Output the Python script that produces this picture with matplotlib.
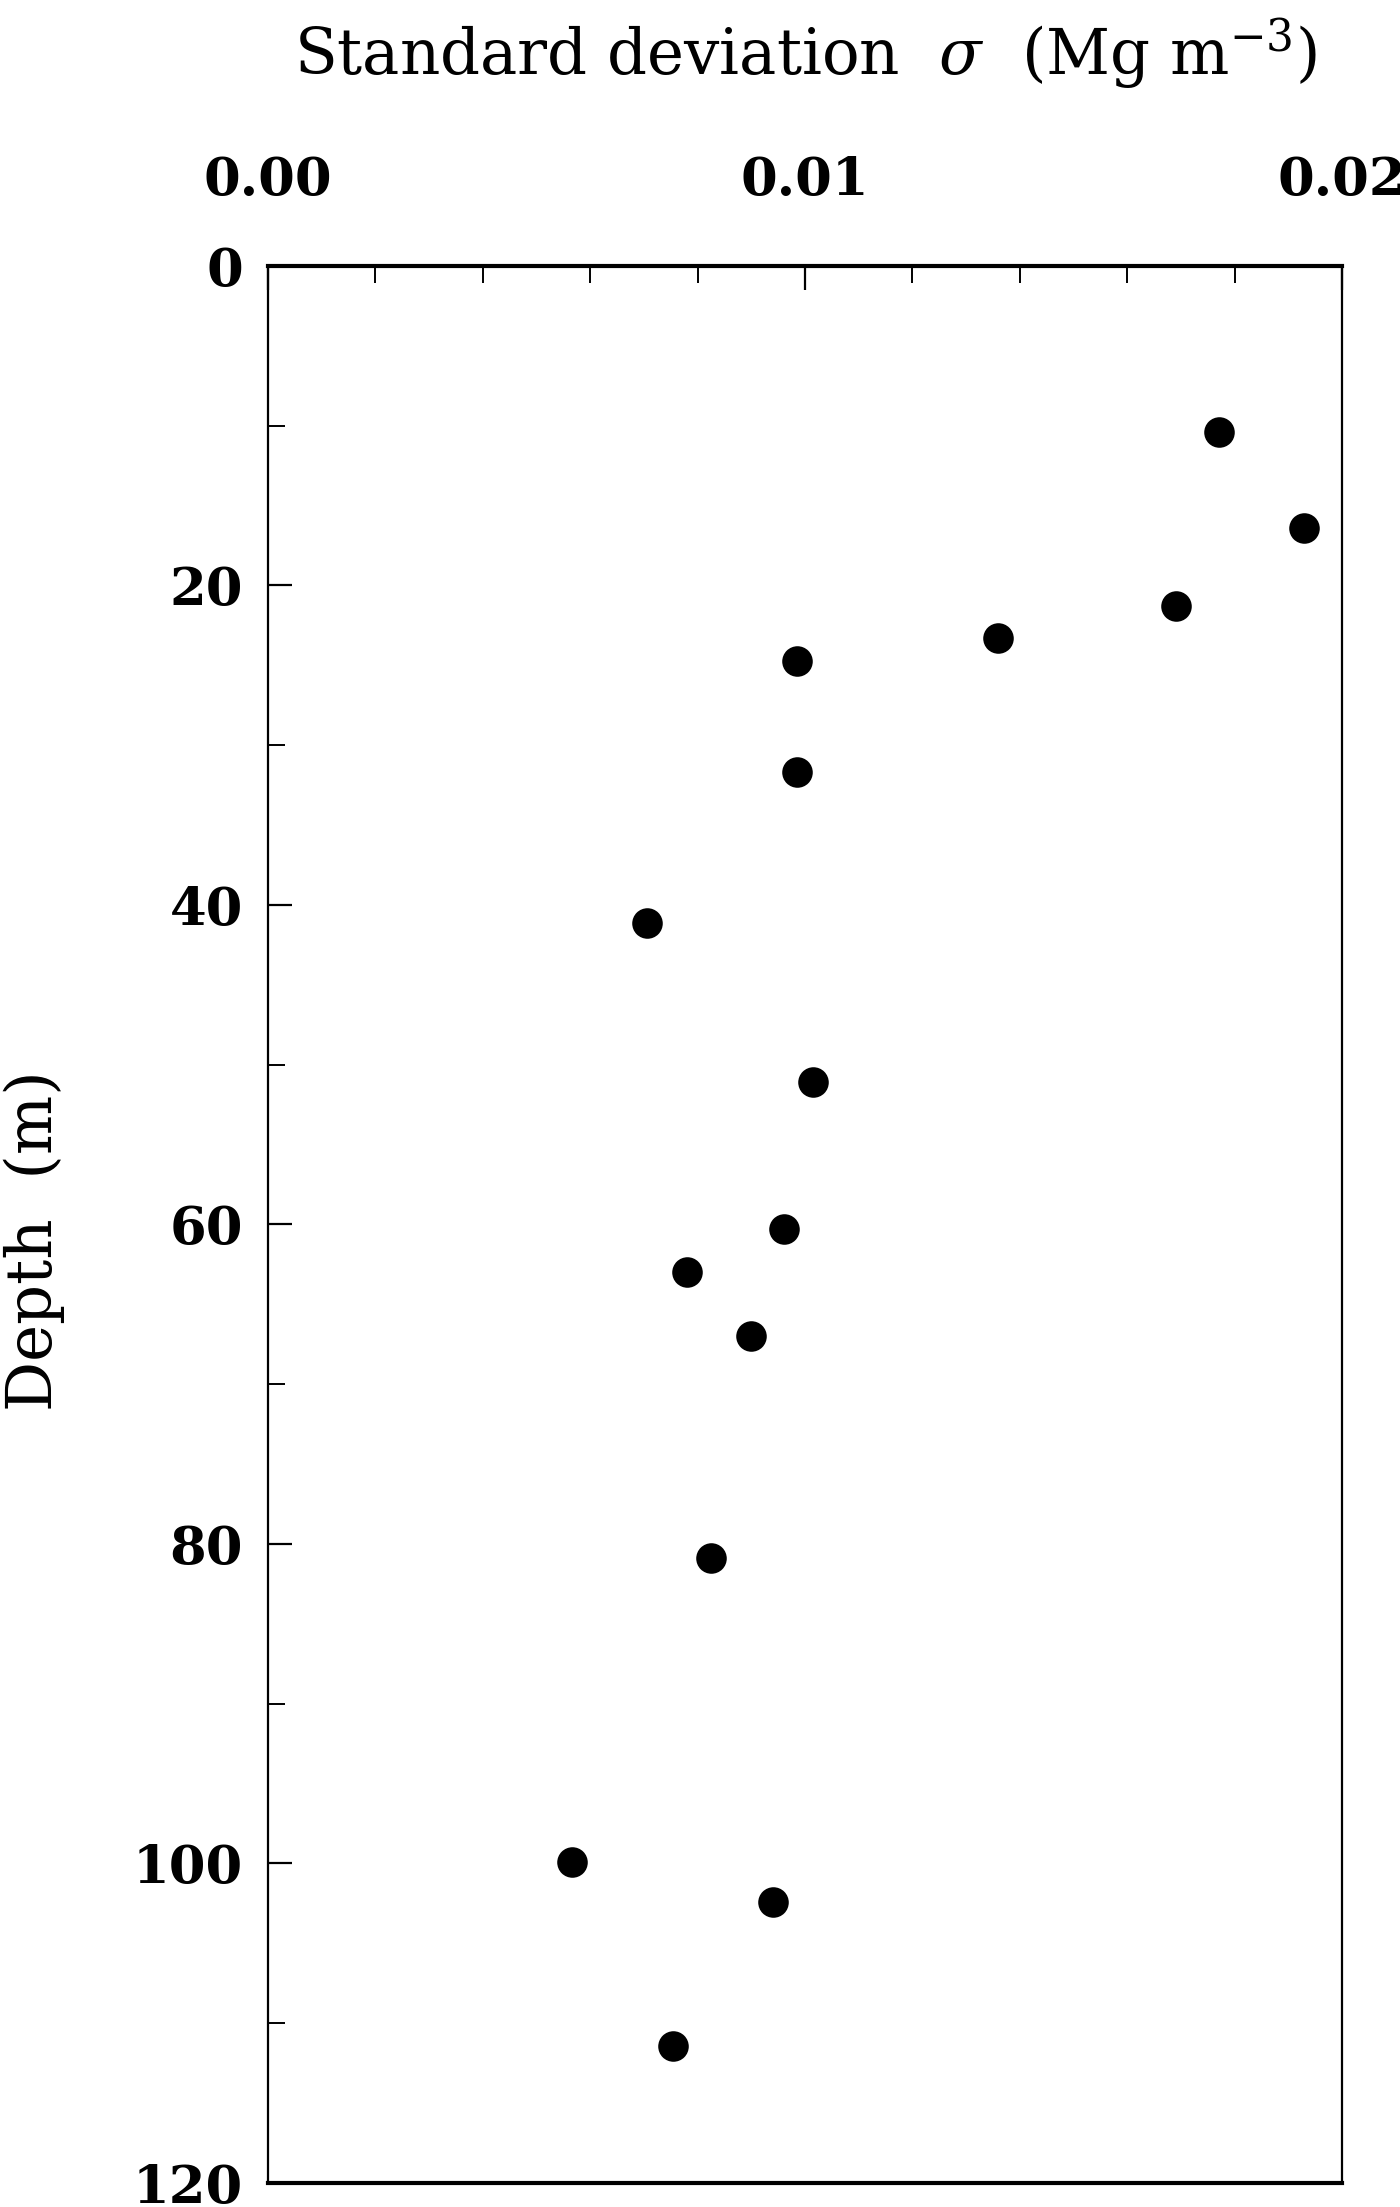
import numpy as np
import matplotlib
matplotlib.use('Agg')
import matplotlib.pyplot as plt
from matplotlib.ticker import MultipleLocator

# standard deviation of density (Mg m^-3) vs depth (m)
sigma = [0.0177, 0.0193, 0.0169, 0.0136, 0.00985, 0.00985, 0.00706,
         0.01015, 0.0096, 0.0078, 0.0090, 0.00825, 0.00566, 0.0094, 0.00754]
depth = [10.4, 16.4, 21.3, 23.3, 24.7, 31.7, 41.1,
         51.1, 60.3, 63.0, 67.0, 80.9, 99.9, 102.4, 111.4]

x_ticks = [0.00, 0.01, 0.02]
x_tick_labels = ['0.00', '0.01', '0.02']
y_ticks = [0, 20, 40, 60, 80, 100, 120]

plt.rcParams['font.family'] = ['DejaVu Serif']
plt.rcParams['mathtext.fontset'] = 'dejavuserif'

fig = plt.figure(figsize=(14, 22.07), dpi=100)
ax = fig.add_axes([0.1914, 0.0109, 0.7672, 0.8686])

ax.plot(sigma, depth, 'o', color='black', markersize=22, markeredgewidth=0)

ax.set_xlim(0, 0.02)
ax.set_ylim(120, 0)

ax.xaxis.tick_top()
ax.xaxis.set_label_position('top')
ax.set_xticks(x_ticks)
ax.set_xticklabels(x_tick_labels)
ax.xaxis.set_minor_locator(MultipleLocator(0.002))
ax.set_yticks(y_ticks)
ax.yaxis.set_minor_locator(MultipleLocator(10))

ax.tick_params(axis='both', which='major', direction='in', length=17, width=1.6,
               labelsize=38)
ax.tick_params(axis='both', which='minor', direction='in', length=12.5, width=1.4)
ax.tick_params(axis='x', which='major', pad=43)
ax.tick_params(axis='y', which='major', pad=18)
ax.tick_params(axis='y', right=False, which='both')
ax.tick_params(axis='x', bottom=False, which='both')
for lab in ax.get_xticklabels() + ax.get_yticklabels():
    lab.set_fontweight('bold')

ax.spines['top'].set_linewidth(3.0)
ax.spines['bottom'].set_linewidth(3.0)
ax.spines['left'].set_linewidth(1.6)
ax.spines['right'].set_linewidth(1.6)

ax.set_xlabel(r'Standard deviation  $\sigma$  (Mg m$^{-3}$)', fontsize=45, labelpad=58)
ax.set_ylabel('Depth  (m)', fontsize=45)
ax.yaxis.set_label_coords(-0.189, 0.4916)

fig.savefig('out.png', dpi=100)
